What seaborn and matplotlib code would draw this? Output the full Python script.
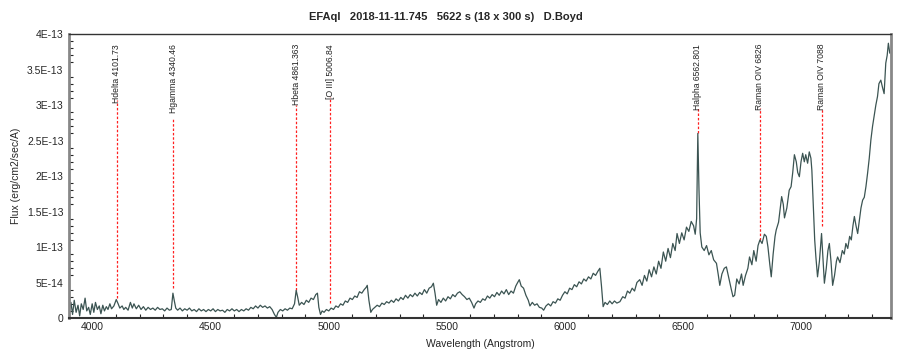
import numpy as np
import pandas as pd
import seaborn as sns
import matplotlib.pyplot as plt
from matplotlib.ticker import MultipleLocator, FixedLocator

# spectrum (flux in units of 1E-13 erg/cm2/sec/A)
wavelength = [
    3900, 3908, 3915, 3922, 3930, 3938, 3945, 3952, 3960, 3968, 3975, 3983, 3990, 3998,
    4005, 4012, 4020, 4028, 4035, 4043, 4050, 4058, 4065, 4073, 4080, 4090, 4100, 4108,
    4115, 4125, 4132, 4140, 4150, 4160, 4168, 4175, 4185, 4195, 4205, 4215, 4225, 4235,
    4245, 4255, 4265, 4275, 4285, 4295, 4305, 4315, 4325, 4333, 4340, 4346, 4352, 4360,
    4370, 4380, 4390, 4400, 4410, 4420, 4430, 4440, 4450, 4460, 4470, 4480, 4490, 4500,
    4510, 4520, 4530, 4540, 4550, 4560, 4570, 4580, 4590, 4600, 4610, 4620, 4630, 4640,
    4650, 4660, 4670, 4680, 4690, 4700, 4710, 4720, 4730, 4740, 4750, 4760, 4770, 4778,
    4785, 4795, 4805, 4815, 4825, 4835, 4845, 4855, 4862, 4868, 4875, 4885, 4895, 4905,
    4915, 4925, 4935, 4945, 4952, 4958, 4965, 4972, 4980, 4990, 5000, 5010, 5020, 5030,
    5040, 5050, 5060, 5070, 5080, 5090, 5100, 5110, 5120, 5130, 5140, 5150, 5158, 5163,
    5170, 5178, 5185, 5195, 5205, 5215, 5225, 5235, 5245, 5255, 5265, 5275, 5285, 5295,
    5305, 5315, 5325, 5335, 5345, 5355, 5365, 5375, 5385, 5395, 5405, 5415, 5425, 5435,
    5443, 5450, 5457, 5465, 5475, 5485, 5495, 5505, 5515, 5525, 5535, 5545, 5555, 5565,
    5575, 5585, 5595, 5605, 5615, 5622, 5632, 5642, 5652, 5662, 5672, 5682, 5692, 5702,
    5712, 5722, 5732, 5742, 5752, 5762, 5772, 5782, 5792, 5800, 5807, 5815, 5825, 5835,
    5845, 5852, 5862, 5872, 5882, 5892, 5902, 5910, 5920, 5930, 5940, 5950, 5960, 5970,
    5980, 5990, 6000, 6010, 6020, 6030, 6040, 6050, 6060, 6070, 6080, 6090, 6100, 6110,
    6120, 6130, 6140, 6148, 6155, 6162, 6170, 6180, 6190, 6200, 6210, 6220, 6233, 6245,
    6255, 6265, 6275, 6285, 6295, 6305, 6317, 6327, 6337, 6347, 6357, 6367, 6377, 6387,
    6397, 6407, 6417, 6427, 6437, 6447, 6457, 6467, 6475, 6485, 6495, 6505, 6515, 6525,
    6535, 6545, 6552, 6558, 6563, 6568, 6573, 6580, 6590, 6600, 6610, 6620, 6630, 6642,
    6650, 6656, 6665, 6675, 6684, 6695, 6705, 6712, 6719, 6728, 6738, 6748, 6755, 6765,
    6775, 6782, 6792, 6800, 6810, 6818, 6826, 6835, 6845, 6853, 6860, 6868, 6874, 6882,
    6890, 6895, 6905, 6912, 6918, 6925, 6930, 6940, 6950, 6958, 6965, 6972, 6980, 6986,
    6993, 7000, 7007, 7014, 7020, 7028, 7035, 7042, 7046, 7052, 7058, 7063, 7070, 7078,
    7087, 7093, 7099, 7107, 7114, 7120, 7127, 7134, 7142, 7150, 7155, 7165, 7175, 7183,
    7190, 7198, 7206, 7213, 7220, 7226, 7233, 7240, 7248, 7254, 7261, 7268, 7275, 7282,
    7289, 7296, 7303, 7310, 7317, 7324, 7330, 7338, 7345, 7352, 7359, 7365, 7370, 7376,
]
flux = [
    0.10, 0.22, 0.05, 0.25, 0.08, 0.18, 0.03, 0.20, 0.12, 0.28, 0.10, 0.15, 0.05, 0.20,
    0.08, 0.22, 0.12, 0.17, 0.06, 0.18, 0.10, 0.16, 0.12, 0.20, 0.13, 0.17, 0.26, 0.20,
    0.14, 0.17, 0.12, 0.15, 0.11, 0.22, 0.14, 0.20, 0.13, 0.18, 0.12, 0.16, 0.11, 0.15,
    0.12, 0.14, 0.11, 0.15, 0.12, 0.13, 0.10, 0.14, 0.11, 0.12, 0.35, 0.24, 0.14, 0.11,
    0.14, 0.10, 0.13, 0.11, 0.14, 0.10, 0.12, 0.09, 0.13, 0.10, 0.12, 0.09, 0.12, 0.10,
    0.13, 0.09, 0.12, 0.10, 0.11, 0.08, 0.12, 0.10, 0.13, 0.10, 0.12, 0.09, 0.12, 0.10,
    0.13, 0.11, 0.15, 0.13, 0.17, 0.14, 0.18, 0.15, 0.17, 0.14, 0.16, 0.12, 0.05, 0.01,
    0.08, 0.12, 0.10, 0.13, 0.11, 0.14, 0.13, 0.20, 0.39, 0.30, 0.18, 0.22, 0.19, 0.25,
    0.22, 0.28, 0.26, 0.33, 0.35, 0.15, 0.05, 0.10, 0.08, 0.12, 0.10, 0.14, 0.12, 0.17,
    0.15, 0.20, 0.18, 0.24, 0.22, 0.28, 0.26, 0.31, 0.29, 0.37, 0.35, 0.40, 0.43, 0.46,
    0.25, 0.08, 0.12, 0.15, 0.18, 0.16, 0.21, 0.19, 0.23, 0.21, 0.25, 0.22, 0.27, 0.24,
    0.29, 0.26, 0.32, 0.28, 0.33, 0.30, 0.35, 0.31, 0.36, 0.33, 0.40, 0.35, 0.42, 0.44,
    0.49, 0.35, 0.18, 0.26, 0.22, 0.28, 0.24, 0.30, 0.27, 0.33, 0.30, 0.35, 0.37, 0.33,
    0.30, 0.26, 0.28, 0.22, 0.14, 0.20, 0.24, 0.22, 0.27, 0.25, 0.31, 0.28, 0.33, 0.30,
    0.36, 0.32, 0.38, 0.34, 0.40, 0.33, 0.38, 0.35, 0.45, 0.50, 0.54, 0.45, 0.42, 0.32,
    0.25, 0.17, 0.22, 0.18, 0.20, 0.15, 0.14, 0.11, 0.17, 0.20, 0.17, 0.23, 0.21, 0.27,
    0.25, 0.32, 0.37, 0.34, 0.42, 0.40, 0.47, 0.44, 0.51, 0.48, 0.55, 0.52, 0.58, 0.55,
    0.63, 0.60, 0.66, 0.70, 0.45, 0.16, 0.22, 0.19, 0.24, 0.20, 0.24, 0.21, 0.23, 0.30,
    0.28, 0.38, 0.35, 0.42, 0.38, 0.50, 0.54, 0.46, 0.60, 0.52, 0.68, 0.58, 0.72, 0.62,
    0.80, 0.70, 0.93, 0.80, 0.98, 0.85, 1.05, 0.95, 1.19, 1.05, 1.20, 1.10, 1.28, 1.22,
    1.36, 1.30, 1.18, 1.40, 2.60, 1.80, 1.20, 1.00, 0.95, 1.02, 0.89, 0.95, 0.82, 0.77,
    0.60, 0.46, 0.62, 0.70, 0.72, 0.55, 0.40, 0.30, 0.32, 0.55, 0.48, 0.62, 0.46, 0.60,
    0.70, 0.86, 0.75, 0.95, 0.80, 1.02, 1.10, 1.05, 1.18, 1.15, 1.00, 0.75, 0.58, 0.90,
    1.15, 1.24, 1.35, 1.55, 1.71, 1.60, 1.41, 1.55, 1.80, 1.85, 2.05, 2.30, 2.20, 2.05,
    1.99, 2.20, 2.32, 2.20, 2.30, 2.18, 2.34, 2.25, 2.08, 1.60, 1.10, 0.86, 0.58, 0.80,
    1.19, 0.85, 0.49, 0.70, 0.95, 1.05, 0.80, 0.46, 0.60, 0.80, 0.86, 0.78, 0.95, 0.90,
    1.05, 0.98, 1.15, 1.10, 1.30, 1.43, 1.30, 1.19, 1.40, 1.55, 1.66, 1.70, 1.85, 2.04,
    2.25, 2.51, 2.70, 2.85, 3.00, 3.12, 3.30, 3.35, 3.25, 3.16, 3.59, 3.70, 3.87, 3.73,
]

# line identifications
line_names = ["Hdelta 4101.73", "Hgamma 4340.46", "Hbeta 4861.363", "[O III] 5006.84",
              "Halpha 6562.801", "Raman OIV 6826", "Raman OIV 7088"]
line_wl = [4101.73, 4340.46, 4861.363, 5006.84, 6562.801, 6826, 7088]
line_top = [3.07, 2.82, 3.00, 3.11, 2.96, 2.96, 2.96]
line_bottom = [0.28, 0.42, 0.40, 0.21, 2.60, 1.10, 1.29]

yticks = [0, 0.5, 1.0, 1.5, 2.0, 2.5, 3.0, 3.5, 4.0]
ytick_labels = ["0", "5E-14", "1E-13", "1.5E-13", "2E-13", "2.5E-13", "3E-13", "3.5E-13", "4E-13"]

sns.set_style("white")
plt.rcParams['font.family'] = ['Liberation Sans', 'DejaVu Sans']

df = pd.DataFrame({"wl": wavelength, "flux": np.array(flux) * 1e-13})

fig = plt.figure(figsize=(9, 3.55), dpi=100)
ax = fig.add_axes([0.0767, 0.1042, 0.9130, 0.8000])

sns.lineplot(data=df, x="wl", y="flux", ax=ax, color="#3b5452", linewidth=0.9)

for name, wl, top, bot in zip(line_names, line_wl, line_top, line_bottom):
    ax.plot([wl, wl], [bot * 1e-13, top * 1e-13], color="#ff2020", linestyle=(0, (2, 1.5)),
            linewidth=0.9, zorder=1)
    ax.text(wl, 3.86e-13, name, rotation=90, ha="center", va="top", fontsize=6.2, color="#222222")

ax.set_xlim(3900, 7380)
ax.set_ylim(0, 4e-13)
ax.xaxis.set_major_locator(MultipleLocator(500))
ax.xaxis.set_minor_locator(MultipleLocator(100))
ax.yaxis.set_major_locator(FixedLocator([v * 1e-13 for v in yticks]))
ax.set_yticklabels(ytick_labels)
ax.yaxis.set_minor_locator(MultipleLocator(1e-14))

ax.tick_params(axis="y", which="major", direction="out", length=3, width=1, labelsize=7.5, pad=1)
ax.tick_params(axis="y", which="minor", direction="in", length=3, width=0.8, left=True)
ax.tick_params(axis="x", which="major", direction="in", length=4, width=1, labelsize=7.5, pad=3)
ax.tick_params(axis="x", which="minor", direction="in", length=3, width=0.8, bottom=True)

for side in ["left", "right"]:
    ax.spines[side].set_color("#888888")
    ax.spines[side].set_linewidth(2)
ax.spines["top"].set_color("#333333")
ax.spines["top"].set_linewidth(1)
ax.spines["bottom"].set_color("#333333")
ax.spines["bottom"].set_linewidth(1.5)

ax.set_xlabel("Wavelength (Angstrom)", fontsize=7.5, labelpad=5)
ax.set_ylabel("Flux (erg/cm2/sec/A)", fontsize=7.5, labelpad=4)

fig.suptitle("EFAql   2018-11-11.745   5622 s (18 x 300 s)   D.Boyd",
             x=0.495, y=0.965, fontsize=8, fontweight="bold")

fig.savefig("out.png", dpi=100)
